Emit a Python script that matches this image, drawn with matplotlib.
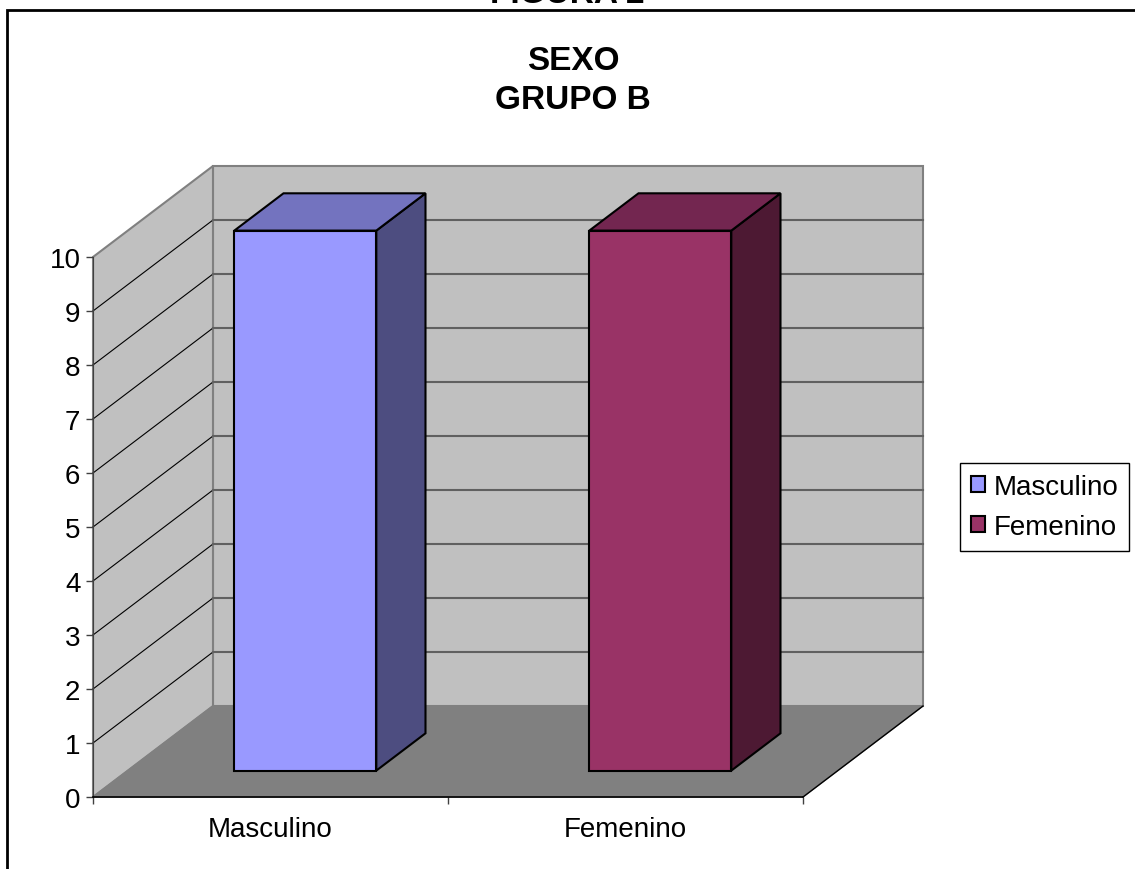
# Grafico de barras 3D estilo Excel: SEXO - GRUPO B
import matplotlib.pyplot as plt
from matplotlib.patches import Polygon, Rectangle

plt.rcParams['font.family'] = ['Liberation Sans', 'DejaVu Sans']

categorias = ['Masculino', 'Femenino']
valores = [10, 10]
y_ticks = list(range(0, 11))

color_frente = ['#9999FF', '#993366']
color_arriba = ['#7373BF', '#732650']
color_lado = ['#4D4D80', '#4D1933']

ymax = 10
prof_x = 0.338   # profundidad en unidades del eje x
prof_y = 1.685   # profundidad en unidades del eje y
d0, d1 = 0.29, 0.70  # barra entre estas profundidades
ancho = 0.4

fig = plt.figure(figsize=(11.35, 8.7), dpi=100)
ax = fig.add_axes([93 / 1135, 72 / 870, 710 / 1135, 540 / 870])
n = len(categorias)
ax.set_xlim(0, n)
ax.set_ylim(0, ymax)
ax.patch.set_visible(False)

# paredes y piso
pared_fondo = Polygon([(prof_x, prof_y), (n + prof_x, prof_y), (n + prof_x, ymax + prof_y), (prof_x, ymax + prof_y)],
                      closed=True, fc='#C0C0C0', ec='#808080', lw=1.5, clip_on=False, zorder=0.5)
pared_izq = Polygon([(0, 0), (prof_x, prof_y), (prof_x, ymax + prof_y), (0, ymax)],
                    closed=True, fc='#C0C0C0', ec='#808080', lw=1.5, clip_on=False, zorder=0.5)
piso = Polygon([(0, 0), (n, 0), (n + prof_x, prof_y), (prof_x, prof_y)],
               closed=True, fc='#808080', ec='#808080', lw=1, clip_on=False, zorder=0.6)
for p in (pared_fondo, pared_izq, piso):
    ax.add_patch(p)
ax.plot([n, n + prof_x], [0, prof_y], color='black', lw=1, clip_on=False, zorder=0.7)

# lineas de division
for v in y_ticks[1:-1]:
    ax.plot([0, prof_x], [v, v + prof_y], color='black', lw=0.8, clip_on=False, zorder=0.8)
    ax.plot([prof_x, n + prof_x], [v + prof_y, v + prof_y], color='#606060', lw=1.5, clip_on=False, zorder=0.8)

# barras
dx = (d1 - d0) * prof_x
dy = (d1 - d0) * prof_y
base = d0 * prof_y
handles = []
for i, (cat, v) in enumerate(zip(categorias, valores)):
    xc = i + 0.5 + d0 * prof_x
    x0 = xc - ancho / 2
    x1 = xc + ancho / 2
    lado = Polygon([(x1, base), (x1 + dx, base + dy), (x1 + dx, base + v + dy), (x1, base + v)],
                   closed=True, fc=color_lado[i], ec='black', lw=1.5, clip_on=False, zorder=4)
    arriba = Polygon([(x0, base + v), (x1, base + v), (x1 + dx, base + v + dy), (x0 + dx, base + v + dy)],
                     closed=True, fc=color_arriba[i], ec='black', lw=1.5, clip_on=False, zorder=4)
    ax.add_patch(lado)
    ax.add_patch(arriba)
    b = ax.bar(xc, v, ancho, bottom=base, color=color_frente[i], edgecolor='black',
               linewidth=1.5, zorder=5, label=cat)
    for r in b:
        r.set_clip_on(False)
    handles.append(b)

# ejes
ax.spines['top'].set_visible(False)
ax.spines['right'].set_visible(False)
ax.spines['left'].set_color('#404040')
ax.spines['bottom'].set_color('black')
ax.spines['bottom'].set_linewidth(1.2)
ax.set_yticks(y_ticks)
ax.tick_params(axis='y', direction='out', length=5, width=1, labelsize=20, pad=4, color='#404040')
ax.set_xticks(range(n + 1))
ax.set_xticklabels([])
ax.set_xticks([i + 0.5 for i in range(n)], minor=True)
ax.set_xticklabels(categorias, minor=True)
ax.tick_params(axis='x', which='major', direction='out', length=5, width=1, color='#404040')
ax.tick_params(axis='x', which='minor', length=0, labelsize=20, pad=14)

# leyenda
fig.legend(handles=handles, labels=categorias, loc='center left', bbox_to_anchor=(0.846, 0.416),
           fontsize=20, frameon=True, fancybox=False, framealpha=1, edgecolor='black',
           handlelength=0.5, handleheight=0.5, handletextpad=0.3, labelspacing=0.5,
           borderpad=0.4, borderaxespad=0)

# titulos
fig.text(573 / 1135, 1 - 81 / 870, 'SEXO\nGRUPO B', ha='center', va='center',
         fontsize=24, weight='bold', linespacing=1.3)
fig.text(567 / 1135, 1 - 3 / 870, 'FIGURA 2', ha='center', va='baseline', fontsize=24, weight='bold')

# borde del area del grafico
fig.add_artist(Rectangle((7 / 1135, -0.1), 1.2, 1.1 - 10.5 / 870, transform=fig.transFigure,
                         fill=False, ec='black', lw=2))

fig.savefig('out.png', dpi=100)
